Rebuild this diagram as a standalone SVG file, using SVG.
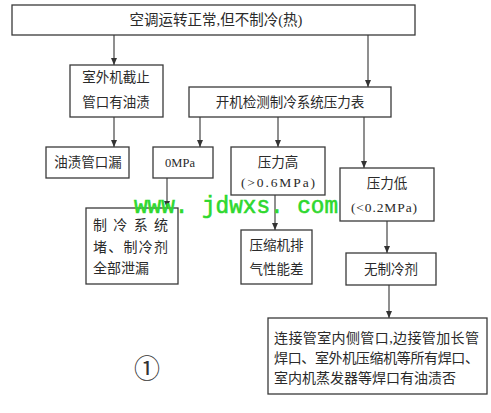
<svg xmlns="http://www.w3.org/2000/svg" width="491" height="413" viewBox="0 0 491 413">
<style>
.b{fill:#fff;stroke:#3a3a3a;stroke-width:1.3}
.t{font-family:"Liberation Serif","Noto Sans CJK SC",serif;font-size:13.5px;fill:#2a2a2a;text-anchor:middle}
.l{font-family:"Liberation Serif","Noto Sans CJK SC",serif;font-size:14px;fill:#2a2a2a}
.c{stroke:#333;stroke-width:1.1;fill:none;marker-end:url(#a)}
</style>
<defs>
<marker id="a" markerWidth="8" markerHeight="8" refX="7" refY="4" orient="auto" markerUnits="userSpaceOnUse">
<path d="M0,1 L7,4 L0,7 Z" fill="#333"/>
</marker>
</defs>
<rect width="491" height="413" fill="#fff"/>
<g id="connectors">
<line class="c" x1="114" y1="35" x2="114" y2="65"/>
<line class="c" x1="368" y1="35" x2="368" y2="87"/>
<line class="c" x1="114" y1="117" x2="114" y2="147"/>
<line class="c" x1="200" y1="117" x2="200" y2="147"/>
<line class="c" x1="278" y1="117" x2="278" y2="147"/>
<line class="c" x1="364" y1="117" x2="364" y2="168"/>
<line class="c" x1="167" y1="178" x2="167" y2="208"/>
<line class="c" x1="275" y1="195" x2="275" y2="230"/>
<line class="c" x1="387" y1="221" x2="387" y2="253"/>
<line class="c" x1="389" y1="285" x2="389" y2="318"/>
</g>
<g id="n_top"><rect class="b" x="12" y="5" width="403" height="30"/><text class="t" x="216" y="25" style="font-size:14.5px">空调运转正常,但不制冷(热)</text></g>
<g id="n_outdoor"><rect class="b" x="70" y="65" width="93" height="52"/><text class="t" x="116" y="82">室外机截止</text><text class="t" x="116" y="107">管口有油渍</text></g>
<g id="n_gauge"><rect class="b" x="189" y="87" width="202" height="30"/><text class="t" x="290" y="107">开机检测制冷系统压力表</text></g>
<g id="n_leak"><rect class="b" x="46" y="147" width="83" height="31"/><text class="t" x="88" y="167">油渍管口漏</text></g>
<g id="n_zero"><rect class="b" x="153" y="147" width="60" height="31"/><text class="t" x="180" y="167" style="font-size:12.5px">0MPa</text></g>
<g id="n_high"><rect class="b" x="231" y="147" width="94" height="48"/><text class="t" x="278" y="167">压力高</text><text class="t" x="278" y="187" style="font-size:13.5px" textLength="74" lengthAdjust="spacing">(&gt;0.6MPa)</text></g>
<g id="n_low"><rect class="b" x="340" y="168" width="94" height="53"/><text class="t" x="387" y="188">压力低</text><text class="t" x="384" y="212" style="font-size:13.5px" textLength="66" lengthAdjust="spacing">(&lt;0.2MPa)</text></g>
<g id="n_block"><rect class="b" x="86" y="208" width="92" height="76"/><text class="l" x="93" y="230" textLength="75" lengthAdjust="spacing">制冷系统</text><text class="l" x="93" y="252" textLength="75" lengthAdjust="spacing">堵、制冷剂</text><text class="l" x="93" y="273">全部泄漏</text></g>
<g id="n_comp"><rect class="b" x="241" y="230" width="71" height="54"/><text class="t" x="276.5" y="250">压缩机排</text><text class="t" x="276.5" y="274">气性能差</text></g>
<g id="n_none"><rect class="b" x="346" y="253" width="90" height="32"/><text class="t" x="391" y="274">无制冷剂</text></g>
<g id="n_check"><rect class="b" x="268" y="318" width="219" height="76"/><text class="l" x="274" y="343" textLength="205" lengthAdjust="spacing">连接管室内侧管口,边接管加长管</text><text class="l" x="274" y="363" textLength="205" lengthAdjust="spacing">焊口、室外机压缩机等所有焊口、</text><text class="l" x="274" y="383">室内机蒸发器等焊口有油渍否</text></g>
<text x="147" y="378" style="font-family:'Noto Sans CJK SC','DejaVu Sans',sans-serif;font-size:26px;fill:#333;text-anchor:middle">①</text>
<text x="134" y="213" textLength="204" lengthAdjust="spacingAndGlyphs" style="font-family:'Liberation Mono',monospace;font-size:23px;fill:#2ed82e;stroke:#2ed82e;stroke-width:0.6">www. jdwxs. com</text>
</svg>
